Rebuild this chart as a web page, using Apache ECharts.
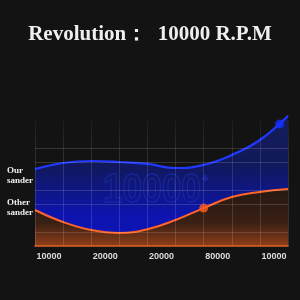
<!DOCTYPE html>
<html>
<head>
<meta charset="utf-8">
<script src="https://cdn.jsdelivr.net/npm/echarts@6/dist/echarts.min.js"></script>
<style>html,body{margin:0;padding:0;background:#121212;}#c{width:300px;height:300px;}</style>
</head>
<body>
<div id="c"></div>
<script>
const xSteps = [0, 1, 2, 3, 4, 5, 6, 7, 8, 9];
const ourSander = [5.5, 5.93, 6.07, 6.0, 5.86, 5.57, 5.79, 6.5, 7.57, 9.3];
const otherSander = [2.57, 1.71, 1.14, 0.93, 1.2, 1.86, 2.71, 3.5, 3.86, 4.07];
const ourMarker = [[8.7, 8.71]];
const otherMarker = [[6, 2.71]];
const tickPositions = [0.5, 2.5, 4.5, 6.5, 8.5];
const tickLabels = ['10000', '20000', '20000', '80000', '10000'];
const gridLevels = [1, 3, 4, 6, 7];
const titleText = 'Revolution：  10000 R.P.M';
const seriesNames = ['Our\nsander', 'Other\nsander'];
const watermark = '10000';

const chart = echarts.init(document.getElementById('c'));
const pair = (vals) => xSteps.map((x, i) => [x, vals[i]]);
chart.setOption({
  backgroundColor: '#131313',
  animation: false,
  title: {
    text: titleText, left: 'center', top: 19,
    textStyle: { fontFamily: 'Liberation Serif', fontWeight: 'bold', fontSize: 21, color: '#efefef' }
  },
  grid: { left: 35, right: 12, top: 120, bottom: 54 },
  xAxis: {
    type: 'value', min: 0, max: 9, interval: 1, z: 5,
    axisLine: { show: true, lineStyle: { color: '#e0642a', width: 1.5 } },
    axisTick: { show: false },
    splitLine: { show: true, lineStyle: {
      color: new echarts.graphic.LinearGradient(0, 0, 0, 1, [
        { offset: 0, color: 'rgba(255,255,255,0.03)' },
        { offset: 0.3, color: 'rgba(255,255,255,0.12)' },
        { offset: 1, color: 'rgba(255,255,255,0.14)' }
      ]), width: 1 } },
    axisLabel: {
      customValues: tickPositions, margin: 6,
      formatter: (v) => { const i = tickPositions.indexOf(v); return i >= 0 ? tickLabels[i] : ''; },
      fontFamily: 'Liberation Sans', fontWeight: 'bold', fontSize: 9, color: '#dcdcdc'
    }
  },
  yAxis: {
    type: 'value', min: 0, max: 9, interval: 1,
    axisLine: { show: false }, axisTick: { show: false }, axisLabel: { show: false },
    splitLine: { show: false }
  },
  graphic: [
    { type: 'text', left: 7, top: 166, z: 10,
      style: { text: seriesNames[0], fill: '#f0f0f0', font: 'bold 9px "Liberation Serif"', lineHeight: 10 } },
    { type: 'text', left: 7, top: 198, z: 10,
      style: { text: seriesNames[1], fill: '#f0f0f0', font: 'bold 9px "Liberation Serif"', lineHeight: 10 } },
    { type: 'text', x: 103, y: 171, scaleX: 0.88, z: 1,
      style: { text: watermark, fill: 'rgba(0,0,0,0)', stroke: 'rgba(30,45,170,0.7)', lineWidth: 1.3,
               font: 'bold 40px "Liberation Sans"' } },
    { type: 'text', x: 202, y: 173, z: 1,
      style: { text: '+', fill: 'rgba(0,0,0,0)', stroke: 'rgba(30,45,170,0.7)', lineWidth: 1.2,
               font: 'bold 11px "Liberation Sans"' } }
  ],
  series: [
    {
      name: 'our', type: 'line', data: pair(ourSander), smooth: 0.45, symbol: 'none', z: 0, clip: false,
      lineStyle: { color: '#2038ff', width: 2.2 },
      areaStyle: {
        color: new echarts.graphic.LinearGradient(0, 0, 0, 1, [
          { offset: 0, color: 'rgba(25,45,210,0.5)' },
          { offset: 0.35, color: 'rgba(15,30,150,0.75)' },
          { offset: 0.75, color: 'rgba(10,20,240,1)' },
          { offset: 1, color: 'rgba(10,20,255,1)' }
        ])
      }
    },
    {
      name: 'other', type: 'line', data: pair(otherSander), smooth: 0.45, symbol: 'none', z: 2,
      lineStyle: { color: '#ff6528', width: 2 },
      areaStyle: {
        opacity: 1,
        color: new echarts.graphic.LinearGradient(0, 0, 0, 1, [
          { offset: 0, color: '#261812' },
          { offset: 0.6, color: '#3a2014' },
          { offset: 1, color: '#8f3e18' }
        ])
      }
    },
    {
      name: 'grid', type: 'line', data: [], z: 3,
      markLine: {
        silent: true, symbol: 'none', label: { show: false },
        lineStyle: { color: 'rgba(255,255,255,0.14)', type: 'solid', width: 1 },
        data: gridLevels.map(v => ({ yAxis: v }))
      }
    },
    { type: 'scatter', data: ourMarker, symbolSize: 9, z: 6, itemStyle: { color: '#1530ff' } },
    { type: 'scatter', data: otherMarker, symbolSize: 9, z: 6, itemStyle: { color: '#ff5a1e' } }
  ]
});
</script>
</body>
</html>
